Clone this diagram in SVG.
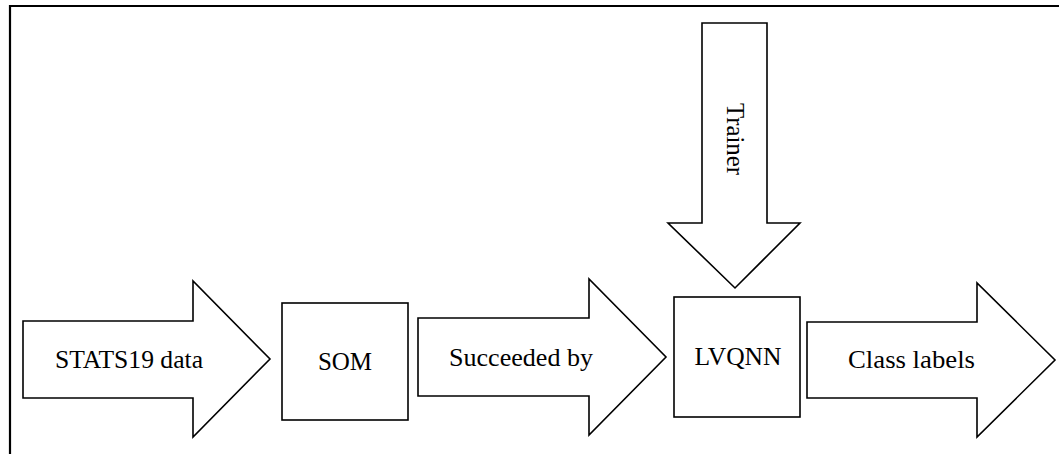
<svg xmlns="http://www.w3.org/2000/svg" width="1059" height="454" viewBox="0 0 1059 454">
  <style>
    .shape { fill: #ffffff; stroke: #000000; stroke-width: 1.6; stroke-linejoin: miter; }
    .frame { fill: none; stroke: #000000; stroke-width: 2.2; }
    .label { font-family: 'Liberation Serif', 'Times New Roman', 'DejaVu Serif', serif; font-size: 25px; fill: #000000; }
  </style>
  <rect width="1059" height="454" fill="#ffffff"/>

  <!-- outer frame: top and left edges -->
  <path class="frame" d="M10 454 V6 H1059"/>

  <g id="connectors">
    <!-- STATS19 data arrow -->
    <g id="arrow-stats19">
      <path class="shape" d="M23 321 H193 V281 L270 359 L193 437 V398 H23 Z"/>
      <text class="label" x="55" y="368" textLength="148" lengthAdjust="spacingAndGlyphs">STATS19 data</text>
    </g>
    <!-- Succeeded by arrow -->
    <g id="arrow-succeeded">
      <path class="shape" d="M418 318 H589 V279 L666 357 L589 435 V396 H418 Z"/>
      <text class="label" x="449" y="366" textLength="144" lengthAdjust="spacingAndGlyphs">Succeeded by</text>
    </g>
    <!-- Class labels arrow -->
    <g id="arrow-classlabels">
      <path class="shape" d="M807 322 H977 V283 L1055 360 L977 437 V398 H807 Z"/>
      <text class="label" x="848" y="368" textLength="127" lengthAdjust="spacingAndGlyphs">Class labels</text>
    </g>
    <!-- Trainer arrow (downwards, label rotated) -->
    <g id="arrow-trainer">
      <path class="shape" d="M702 23 H767 V223 H800 L735 288 L668 223 H702 Z"/>
      <text class="label" transform="translate(727 103) rotate(90)" x="0" y="0" textLength="72" lengthAdjust="spacingAndGlyphs">Trainer</text>
    </g>
  </g>

  <g id="node-som">
    <rect class="shape" x="282" y="303" width="126" height="117"/>
    <text class="label" x="345" y="370" text-anchor="middle">SOM</text>
  </g>

  <g id="node-lvqnn">
    <rect class="shape" x="674" y="297" width="126" height="120"/>
    <text class="label" x="738" y="365" text-anchor="middle" textLength="87" lengthAdjust="spacingAndGlyphs">LVQNN</text>
  </g>
</svg>
